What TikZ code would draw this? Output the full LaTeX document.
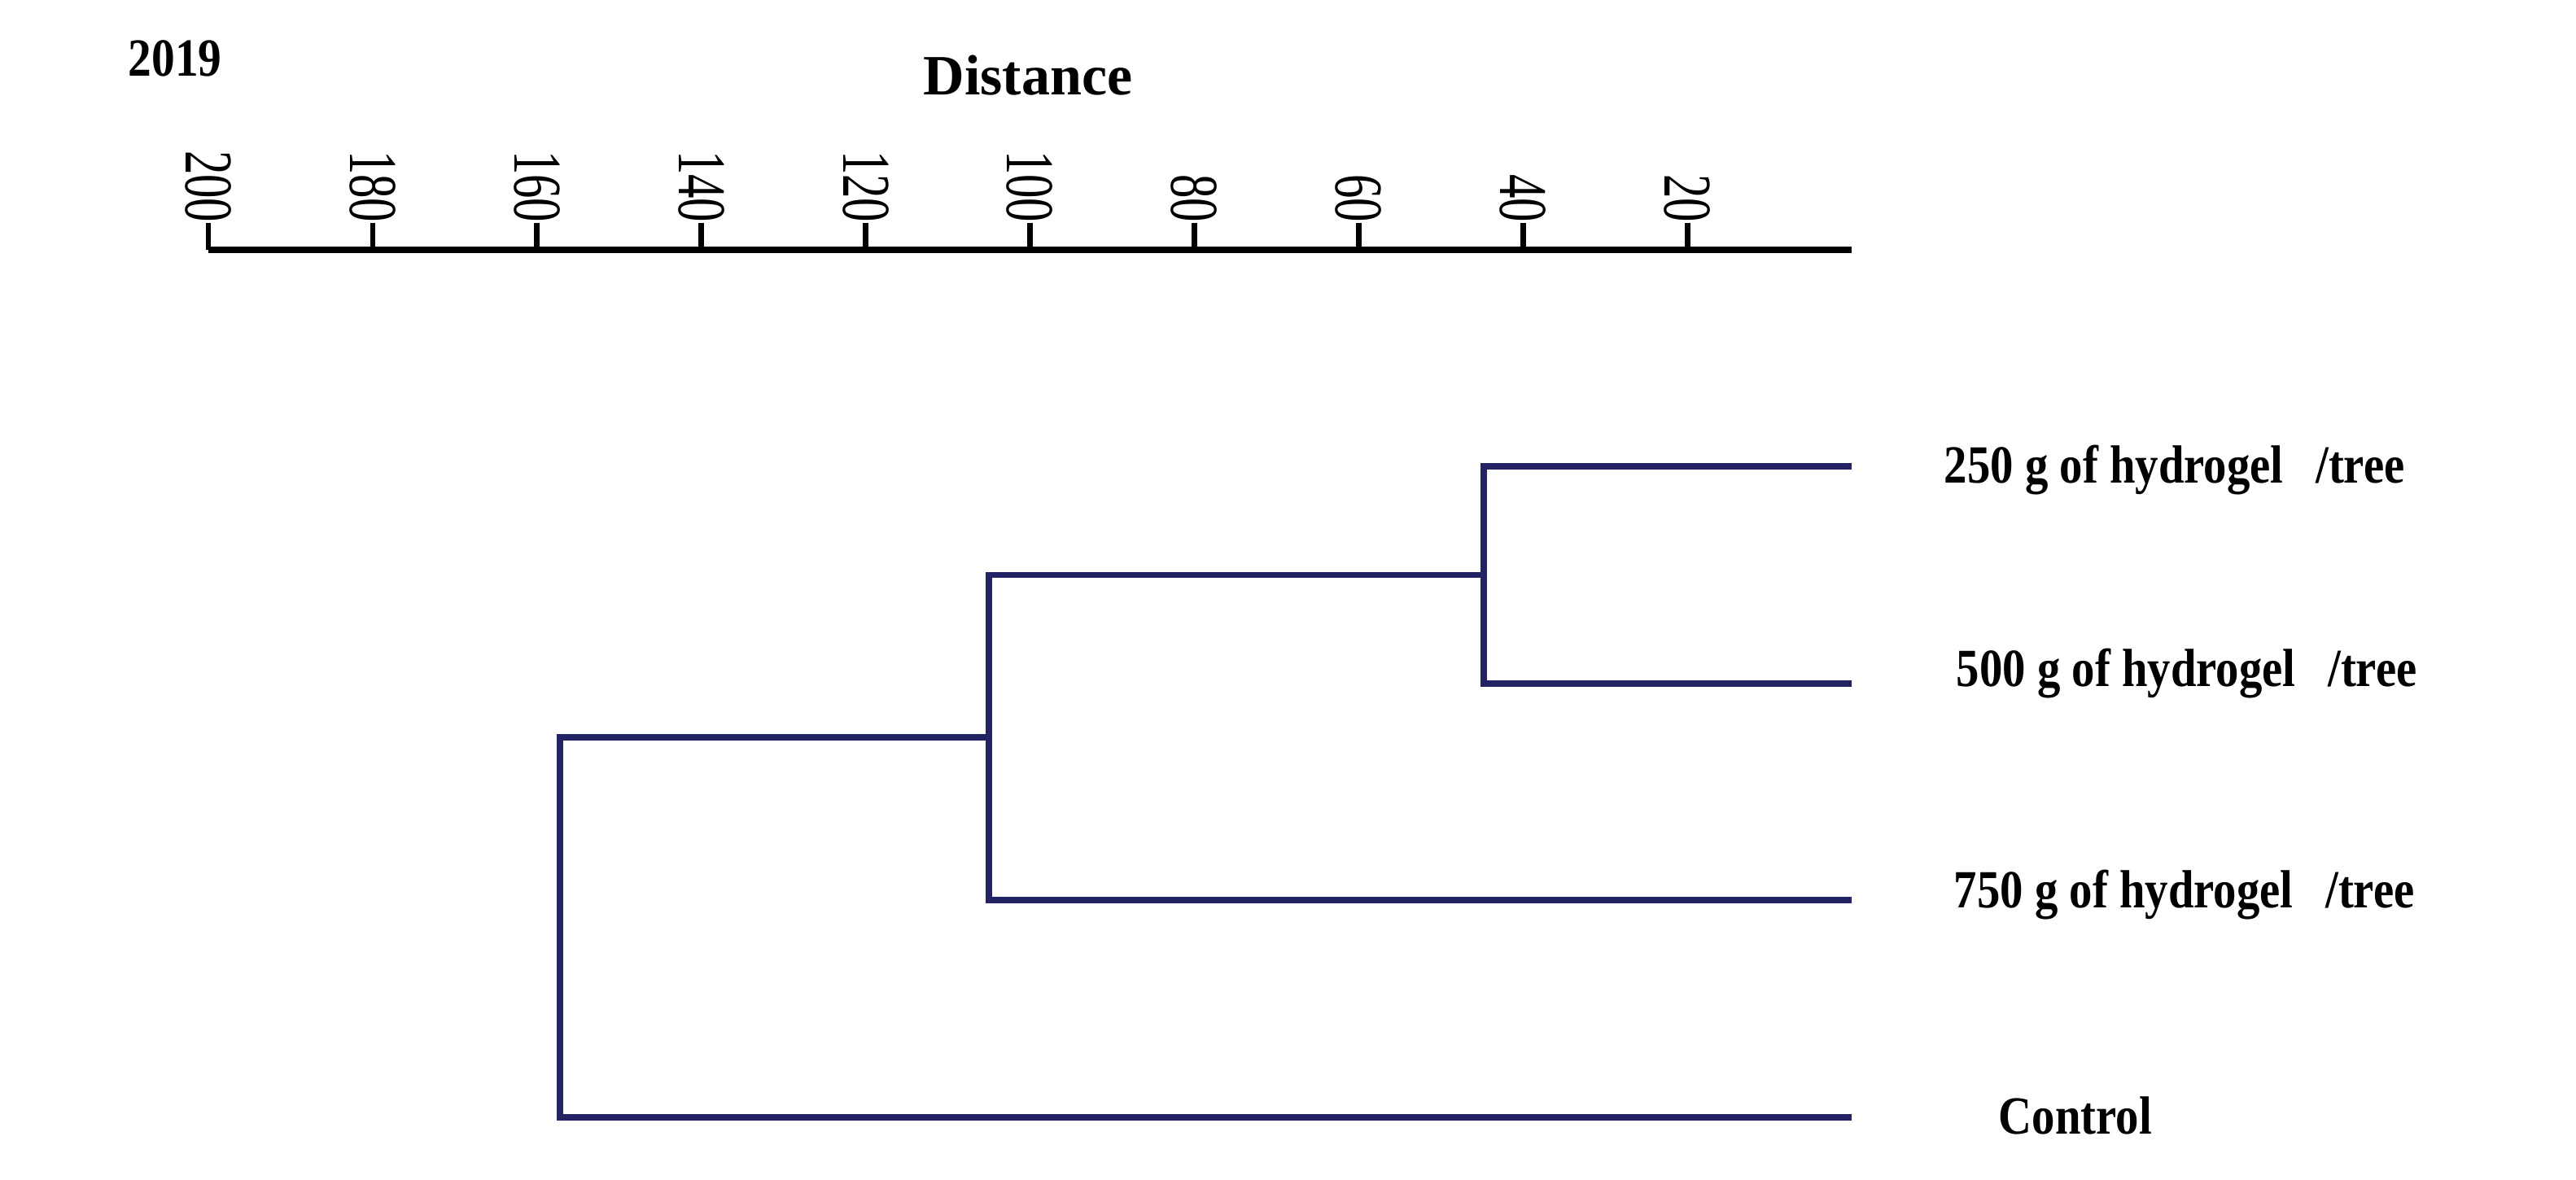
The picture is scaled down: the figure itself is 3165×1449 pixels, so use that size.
\documentclass[tikz,border=0pt]{standalone}
\usepackage{fontspec}
\setmainfont{Liberation Serif}
\setsansfont{Liberation Sans}
\definecolor{dendblue}{RGB}{34,34,100}
\begin{document}
\begin{tikzpicture}[x=0.25pt,y=-0.25pt,
  dend/.style={draw=dendblue,line width=1.9pt},
  axisline/.style={draw=black,line width=2.2pt},
  tickline/.style={draw=black,line width=1.7pt},
  ticklab/.style={rotate=-90,anchor=east,inner sep=0pt,font=\fontsize{21}{21}\selectfont},
  leaflab/.style={anchor=base west,inner sep=0pt,font=\bfseries\fontsize{16.5}{16.5}\selectfont}]
\useasboundingbox (0,0) rectangle (3165,1449);
% title texts
\node[anchor=base west,inner sep=0pt,font=\bfseries\fontsize{16.5}{16.5}\selectfont] (year) at (157,93) {\scalebox{0.87}[1]{2019}};
\node[anchor=base,inner sep=0pt,font=\bfseries\fontsize{17.5}{17.5}\selectfont] (dist) at (1263,116) {Distance};
% axis
\coordinate (a0) at (256,307);
\coordinate (a1) at (2275,307);
\draw[axisline] (a0) -- (a1);
\foreach \d in {200,180,...,20}{
  \coordinate (t\d) at ({2275-\d*10.095},307);
  \coordinate (s\d) at ({2275-\d*10.095},274);
  \draw[tickline] (t\d) -- (s\d);
  \node[ticklab] (lab\d) at (s\d) {\scalebox{0.7}[1]{\d}};
}
% dendrogram
\coordinate (l1) at (2275,573);
\coordinate (l2) at (2275,840);
\coordinate (l3) at (2275,1106);
\coordinate (l4) at (2275,1373);
\coordinate (n1) at (1823,706.5);
\coordinate (n2) at (1215,906);
\coordinate (n3) at (688,1139.5);
\draw[dend] (l1) -| (n1) |- (l2);
\draw[dend] (n1) -| (n2) |- (l3);
\draw[dend] (n2) -| (n3) |- (l4);
% leaf labels
\node[leaflab] (t250) at (2388,593) {\scalebox{0.86}[1]{250 g of hydrogel\hspace{0.7em}/tree}};
\node[leaflab] (t500) at (2403,843) {\scalebox{0.86}[1]{500 g of hydrogel\hspace{0.7em}/tree}};
\node[leaflab] (t750) at (2400,1115) {\scalebox{0.86}[1]{750 g of hydrogel\hspace{0.7em}/tree}};
\node[leaflab] (tctl) at (2455,1393) {\scalebox{0.86}[1]{Control}};
\end{tikzpicture}
\end{document}
